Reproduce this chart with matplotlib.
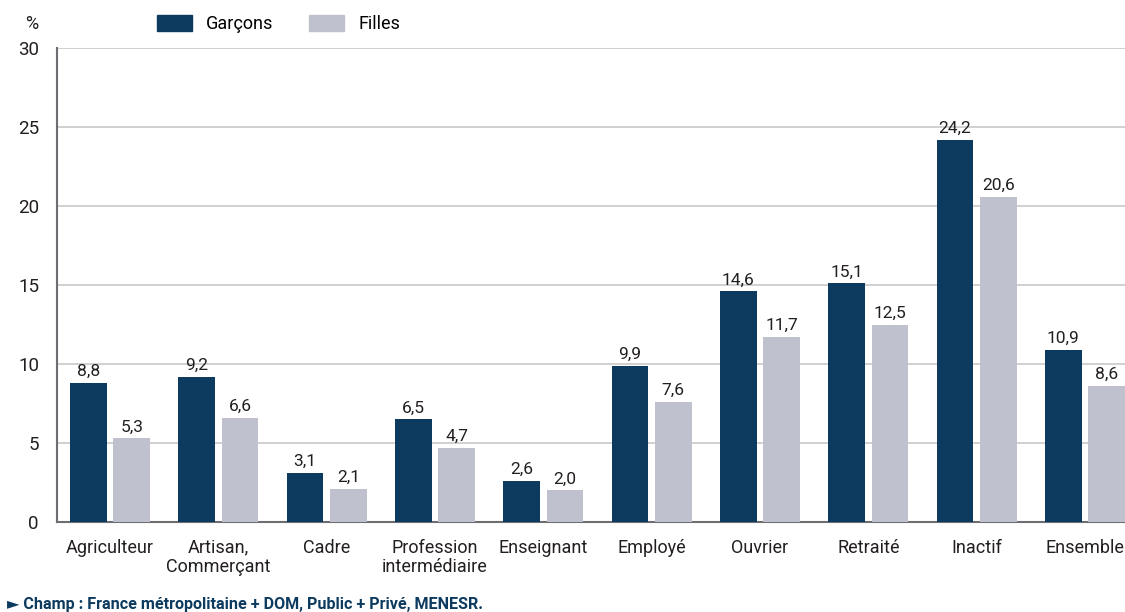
import numpy as np
import matplotlib.pyplot as plt
from matplotlib.patches import Patch

plt.rcParams['font.family'] = ['Roboto', 'DejaVu Sans']

# Categories and values (%)
categories = ["Agriculteur", "Artisan,\nCommerçant", "Cadre", "Profession\nintermédiaire",
              "Enseignant", "Employé", "Ouvrier", "Retraité", "Inactif", "Ensemble"]
garcons = [8.8, 9.2, 3.1, 6.5, 2.6, 9.9, 14.6, 15.1, 24.2, 10.9]
filles = [5.3, 6.6, 2.1, 4.7, 2.0, 7.6, 11.7, 12.5, 20.6, 8.6]
y_ticks = [0, 5, 10, 15, 20, 25, 30]

navy = "#0d3a5f"
grey = "#c0c1cf"
text_col = "#231f20"

fig = plt.figure(figsize=(11.25, 6.12), dpi=100)
ax = fig.add_axes([0.0507, 0.147, 0.9493, 0.7746])

x = np.arange(len(categories))
w = 0.34
off = 0.2
ax.bar(x - off, garcons, w, color=navy, zorder=3)
ax.bar(x + off, filles, w, color=grey, zorder=3)

# value labels
for xi, v in zip(x - off, garcons):
    ax.text(xi, v + 0.25, f"{v:.1f}".replace(".", ","), ha="center", va="bottom",
            fontsize=12.5, color=text_col)
for xi, v in zip(x + off, filles):
    ax.text(xi, v + 0.25, f"{v:.1f}".replace(".", ","), ha="center", va="bottom",
            fontsize=12.5, color=text_col)

ax.set_ylim(0, 30)
ax.set_xlim(-0.49, 9.37)
ax.set_yticks(y_ticks)
ax.set_yticklabels([str(t) for t in y_ticks], fontsize=13.5, color=text_col)
ax.set_xticks(x)
ax.set_xticklabels(categories, fontsize=13, color=text_col, linespacing=1.1)
ax.tick_params(axis="x", length=0, pad=12)
ax.tick_params(axis="y", length=0, pad=13)

ax.yaxis.grid(True, color="#c8c8c8", linewidth=1.2, zorder=0)
ax.set_axisbelow(True)
for s in ["top", "right"]:
    ax.spines[s].set_visible(False)
ax.spines["left"].set_color("#6d6e71")
ax.spines["bottom"].set_color("#6d6e71")
ax.spines["left"].set_linewidth(1.5)
ax.spines["bottom"].set_linewidth(1.5)

fig.text(32 / 1125, 1 - 24 / 612, "%", fontsize=13, color=text_col, ha="center", va="center")

handles = [Patch(color=navy, label="Garçons"), Patch(color=grey, label="Filles")]
fig.legend(handles=handles, loc="center left", bbox_to_anchor=(141 / 1125, 1 - 24 / 612),
           ncol=2, frameon=False, fontsize=13, handlelength=1.9, handleheight=0.95,
           columnspacing=2.0, handletextpad=0.8)

fig.text(0.006, 1 - 604 / 612, "► Champ : France métropolitaine + DOM, Public + Privé, MENESR.",
         fontsize=11.6, fontweight="bold", color=navy, ha="left", va="center")

fig.savefig("out.png", dpi=100)
